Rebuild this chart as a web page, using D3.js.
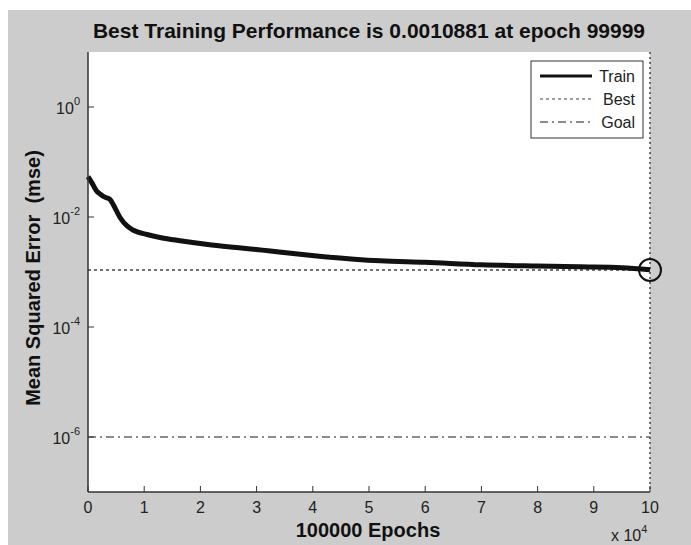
<!DOCTYPE html>
<html>
<head>
<meta charset="utf-8">
<script src="https://cdn.jsdelivr.net/npm/d3@7"></script>
<style>
  body { margin: 0; background: #fff; }
  svg { display: block; font-family: 'Liberation Sans', Arial, sans-serif; }
  .tick-label { font-size: 16px; fill: #222; }
  .bold { font-weight: bold; fill: #111; }
</style>
</head>
<body>
<svg id="chart" width="691" height="545"></svg>
<script>
// training record (log-scale mse)
const epochs = [0, 800, 1500, 2200, 3000, 3900, 4600, 5700, 7000, 8000, 10500,
  13000, 16400, 22000, 31000, 34000, 42000, 52000, 60000, 70000, 80000, 87500, 95000, 99999];
const mse = [0.054, 0.04, 0.03, 0.026, 0.023, 0.021, 0.016, 0.0098, 0.0068, 0.0058, 0.0048,
  0.0042, 0.0037, 0.0031, 0.0025, 0.0023, 0.0019, 0.0016, 0.0015, 0.00135, 0.00128, 0.00124, 0.0012, 0.0011];

const bestEpoch = 99999;
const bestPerf = 0.0010881;
const goal = 1e-6;

const xTicks = d3.range(0, 100001, 10000);
const yTicks = [1, 1e-2, 1e-4, 1e-6];
const legendItems = ["Train", "Best", "Goal"];

const svg = d3.select("#chart");
const W = 691, H = 545;
const plot = { left: 88, right: 650, top: 52, bottom: 492 };

svg.append("rect").attr("x", 8).attr("y", 10).attr("width", W - 8).attr("height", H - 10)
  .attr("fill", "#cccccc");
svg.append("rect").attr("x", plot.left).attr("y", plot.top)
  .attr("width", plot.right - plot.left).attr("height", plot.bottom - plot.top)
  .attr("fill", "#fff");

const x = d3.scaleLinear().domain([0, 100000]).range([plot.left, plot.right]);
const y = d3.scaleLog().domain([1e-7, 1e1]).range([plot.bottom, plot.top]);

// goal line
svg.append("line")
  .attr("x1", plot.left).attr("x2", plot.right)
  .attr("y1", y(goal)).attr("y2", y(goal))
  .attr("stroke", "#666").attr("stroke-width", 1.5).attr("stroke-dasharray", "8,4,2,4");

// best lines
svg.append("line")
  .attr("x1", plot.left).attr("x2", plot.right)
  .attr("y1", y(bestPerf)).attr("y2", y(bestPerf))
  .attr("stroke", "#444").attr("stroke-width", 1.5).attr("stroke-dasharray", "3,3");
svg.append("line")
  .attr("x1", x(bestEpoch)).attr("x2", x(bestEpoch))
  .attr("y1", plot.top).attr("y2", plot.bottom)
  .attr("stroke", "#444").attr("stroke-width", 1.5).attr("stroke-dasharray", "2,3");

// training curve
const line = d3.line().x((d, i) => x(epochs[i])).y(d => y(d)).curve(d3.curveMonotoneX);
svg.append("path").datum(mse)
  .attr("d", line)
  .attr("fill", "none").attr("stroke", "#111").attr("stroke-width", 5)
  .attr("stroke-linejoin", "round");

svg.append("circle")
  .attr("cx", x(bestEpoch)).attr("cy", y(bestPerf)).attr("r", 11)
  .attr("fill", "none").attr("stroke", "#111").attr("stroke-width", 2);

// axes: ticks point inward, MATLAB style
const xAxis = svg.append("g").attr("transform", `translate(0,${plot.bottom})`);
xAxis.append("line").attr("x1", plot.left).attr("x2", plot.right)
  .attr("stroke", "#333").attr("stroke-width", 1.5);
xAxis.selectAll(".tk").data(xTicks).join("line")
  .attr("x1", d => x(d)).attr("x2", d => x(d)).attr("y1", 0).attr("y2", -6)
  .attr("stroke", "#333");
xAxis.selectAll(".tick-label").data(xTicks).join("text")
  .attr("class", "tick-label")
  .attr("x", d => x(d)).attr("y", 21).attr("text-anchor", "middle")
  .text(d => d / 10000);

const yAxis = svg.append("g");
yAxis.append("line").attr("x1", plot.left).attr("x2", plot.left)
  .attr("y1", plot.top).attr("y2", plot.bottom)
  .attr("stroke", "#333").attr("stroke-width", 1.5);
yAxis.selectAll(".tk").data(yTicks).join("line")
  .attr("x1", plot.left).attr("x2", plot.left + 6)
  .attr("y1", d => y(d)).attr("y2", d => y(d))
  .attr("stroke", "#333");
const yl = yAxis.selectAll(".tick-label").data(yTicks).join("text")
  .attr("class", "tick-label")
  .attr("x", plot.left - 8).attr("y", d => y(d) + 7).attr("text-anchor", "end");
yl.append("tspan").text("10");
yl.append("tspan").attr("dy", -9).attr("font-size", 11).text(d => Math.round(Math.log10(d)));

// x10^4 multiplier
const mult = svg.append("text").attr("class", "tick-label").attr("x", 611).attr("y", 541);
mult.append("tspan").text("x 10");
mult.append("tspan").attr("dy", -8).attr("font-size", 11).text("4");

// titles
svg.append("text").attr("class", "bold")
  .attr("x", (plot.left + plot.right) / 2).attr("y", 38)
  .attr("text-anchor", "middle").attr("font-size", 21)
  .text(`Best Training Performance is ${bestPerf} at epoch ${bestEpoch}`);
svg.append("text").attr("class", "bold")
  .attr("x", 368).attr("y", 537)
  .attr("text-anchor", "middle").attr("font-size", 20)
  .text("100000 Epochs");
svg.append("text").attr("class", "bold")
  .attr("transform", `translate(40,${(plot.top + plot.bottom) / 2 + 6}) rotate(-90)`)
  .attr("text-anchor", "middle").attr("font-size", 20)
  .attr("xml:space", "preserve")
  .text("Mean Squared Error  (mse)");

// legend
const lg = svg.append("g").attr("transform", "translate(531,61)");
lg.append("rect").attr("width", 112).attr("height", 77)
  .attr("fill", "#fff").attr("stroke", "#333").attr("stroke-width", 1);
const styles = [
  { w: 3, dash: null, c: "#111" },
  { w: 1.2, dash: "3,3", c: "#444" },
  { w: 1.5, dash: "8,4,2,4", c: "#666" }
];
const rows = lg.selectAll(".row").data(legendItems).join("g")
  .attr("transform", (d, i) => `translate(0,${15 + i * 23})`);
rows.append("line").attr("x1", 9).attr("x2", 61)
  .attr("stroke", (d, i) => styles[i].c)
  .attr("stroke-width", (d, i) => styles[i].w)
  .attr("stroke-dasharray", (d, i) => styles[i].dash);
rows.append("text").attr("class", "tick-label")
  .attr("x", 104).attr("y", 6).attr("text-anchor", "end")
  .text(d => d);
</script>
</body>
</html>
